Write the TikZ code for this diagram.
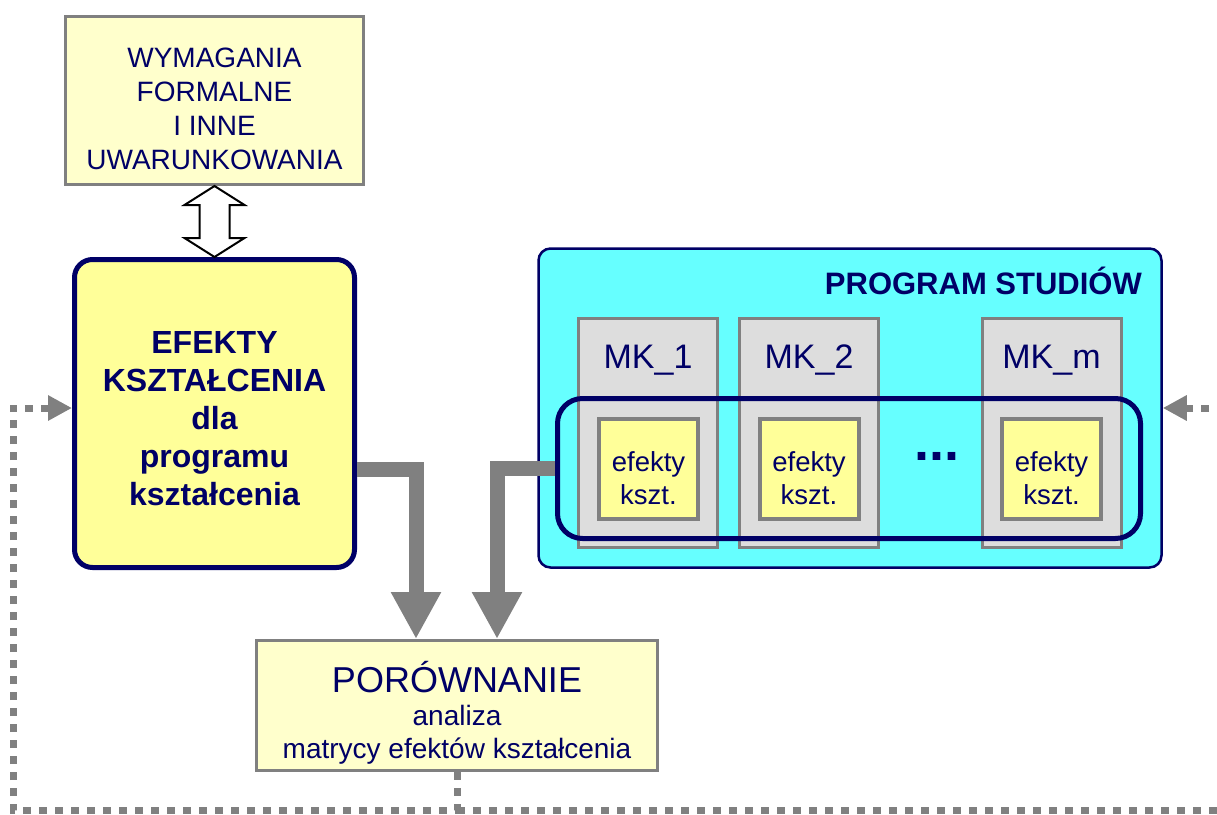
\documentclass[tikz,border=0pt]{standalone}
\usepackage{fontspec}
\setmainfont{Liberation Sans}
\usetikzlibrary{arrows.meta,calc}
\definecolor{navy}{HTML}{000066}
\definecolor{lyel}{HTML}{FFFFCC}
\definecolor{yel}{HTML}{FFFF99}
\definecolor{gry}{HTML}{808080}
\definecolor{lgry}{HTML}{DDDDDD}
\definecolor{cyn}{HTML}{66FFFF}
\begin{document}
\begin{tikzpicture}[x=1pt,y=-1pt,
  plainbox/.style={draw=gry, line width=3pt, fill=lyel, inner sep=0pt},
  mainbox/.style={draw=navy, line width=5pt, fill=yel, rounded corners=18pt, inner sep=0pt},
  progbox/.style={draw=navy, line width=2.5pt, fill=cyn, rounded corners=12pt, inner sep=0pt},
  ringbox/.style={draw=navy, line width=5pt, rounded corners=25pt, inner sep=0pt},
  mkbox/.style={draw=gry, line width=3pt, fill=lgry, inner sep=0pt, minimum width=139pt, minimum height=229pt},
  effbox/.style={draw=gry, line width=4pt, fill=yel, inner sep=0pt, minimum width=99pt, minimum height=100pt},
  txt/.style={text=navy, align=center, inner sep=0pt},
  efftxt/.style={txt, font=\fontsize{27.5}{33}\selectfont},
  garrow/.style={draw=gry, line width=15pt, line join=miter, -{Triangle[length=47pt,width=47pt]}},
  dotline/.style={draw=gry, line width=7pt, dash pattern=on 8pt off 8pt, -{Triangle[length=24pt,width=24pt]}},
]
\useasboundingbox (0,0) rectangle (1217,814);

% top requirements box
\node[plainbox, minimum width=298pt, minimum height=168pt] (req) at (214.5,100.5) {};
\node[txt, font=\fontsize{28}{34}\selectfont] (reqt) at (214.5,109) {WYMAGANIA\\FORMALNE\\I INNE\\UWARUNKOWANIA};

% main learning outcomes box
\node[mainbox, minimum width=280pt, minimum height=308pt] (efekty) at (214.5,413.5) {};
\node[txt, font=\bfseries\fontsize{32}{38}\selectfont] (efektyt) at (214.5,419) {EFEKTY\\KSZTAŁCENIA\\dla\\programu\\kształcenia};

% double arrow
\draw[line width=2pt, fill=white, line join=miter] (req.south) -- ++(30,19) -- ++(-15,0) -- ++(0,33) -- ++(15,0) -- (efekty.north)
   -- ++(-30,-19) -- ++(15,0) -- ++(0,-33) -- ++(-15,0) -- cycle;

% program box
\node[progbox, minimum width=623pt, minimum height=319pt] (prog) at (850,408) {};
\node[txt, font=\bfseries\fontsize{31}{36}\selectfont, anchor=base east] (progt) at (1142,294) {PROGRAM STUDIÓW};

\node[mkbox] (mk1) at (648,433) {};
\node[mkbox] (mk2) at (809,433) {};
\node[mkbox] (mkm) at (1051.5,433) {};
\node[txt, font=\fontsize{34}{40}\selectfont, anchor=base] (mk1t) at (648,368) {MK\_1};
\node[txt, font=\fontsize{34}{40}\selectfont, anchor=base] (mk2t) at (809,368) {MK\_2};
\node[txt, font=\fontsize{34}{40}\selectfont, anchor=base] (mkmt) at (1051.5,368) {MK\_m};

\node[ringbox, minimum width=583pt, minimum height=140pt] (ring) at (849,468.5) {};

\node[effbox] (e1) at (648.5,469) {};
\node[effbox] (e2) at (809,469) {};
\node[effbox] (em) at (1051.5,469) {};
\node[efftxt] (e1t) at (648.5,478) {efekty\\kszt.};
\node[efftxt] (e2t) at (809,478) {efekty\\kszt.};
\node[efftxt] (emt) at (1051.5,478) {efekty\\kszt.};
\node[txt, font=\bfseries\fontsize{54}{60}\selectfont, anchor=base] (dots) at (936.5,460) {...};

% comparison box
\node[plainbox, minimum width=401pt, minimum height=130pt] (por) at (457,705.5) {};
\node[txt, font=\fontsize{36}{40}\selectfont, anchor=base] (port1) at (457,692) {PORÓWNANIE};
\node[txt, font=\fontsize{28}{33}\selectfont, anchor=base] (port2) at (457,725) {analiza};
\node[txt, font=\fontsize{28}{33}\selectfont, anchor=base] (port3) at (457,758) {matrycy efektów kształcenia};

% thick arrows
\draw[garrow] ([yshift=-56pt]efekty.east) -| ([xshift=-41pt]por.north);
\draw[garrow] (ring.west) -| ([xshift=40pt]por.north);

% dotted feedback loops
\coordinate (bl) at (13,810);
\coordinate (br) at (1240,810);
\draw[dotline] (por.south) -- (por.south |- bl) -- (bl) |- ([yshift=5.5pt]efekty.west);
\draw[dotline] (por.south |- bl) -- (br) |- (prog.east);
\end{tikzpicture}
\end{document}
